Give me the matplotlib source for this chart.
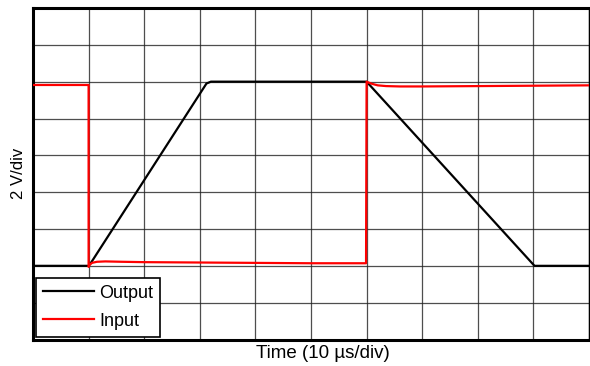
import matplotlib
matplotlib.use("Agg")
import matplotlib.pyplot as plt

plt.rcParams['font.family'] = ['Liberation Sans', 'DejaVu Sans']

# Time in divisions (10 µs/div), voltage in divisions (2 V/div)
output_t = [0.0, 1.0, 1.05, 3.12, 3.2, 6.0, 9.02, 10.0]
output_v = [2.0, 2.0, 2.1, 6.95, 7.0, 7.0, 2.0, 2.0]

input_t = [0.0, 1.0, 1.0, 1.02, 1.06, 1.15, 1.3, 1.6, 2.0, 3.0, 4.0, 5.0, 5.99,
           6.0, 6.03, 6.1, 6.2, 6.35, 6.6, 7.0, 8.0, 9.0, 10.0]
input_v = [6.91, 6.91, 1.97, 2.03, 2.08, 2.11, 2.12, 2.11, 2.1, 2.09, 2.08, 2.07, 2.07,
           7.0, 6.98, 6.94, 6.9, 6.88, 6.87, 6.87, 6.88, 6.89, 6.9]

series_labels = ["Output", "Input"]
xlabel = "Time (10 µs/div)"
ylabel = "2 V/div"

fig = plt.figure(figsize=(5.9, 3.66), dpi=100)
ax = fig.add_axes([33/590, 1-339.5/366, (589-33)/590, (339.5-8)/366])

ax.plot(output_t, output_v, color='black', lw=1.6, label=series_labels[0], zorder=3)
ax.plot(input_t, input_v, color='#ff0000', lw=1.6, label=series_labels[1], zorder=4)

ax.set_xlim(0, 10)
ax.set_ylim(0, 9)
ax.set_xticks(range(0, 11))
ax.set_yticks(range(0, 10))
ax.tick_params(length=0, labelbottom=False, labelleft=False)
ax.grid(True, color='#222222', lw=0.9, alpha=0.8)
ax.set_axisbelow(True)

for side in ['left', 'top', 'bottom']:
    ax.spines[side].set_linewidth(2.2)
ax.spines['right'].set_linewidth(1.0)

ax.set_xlabel(xlabel, fontsize=13.5)
ax.xaxis.set_label_coords((323 - 33) / 556, -14.5 / 331.5)
ax.xaxis.label.set_va('center')
ax.set_ylabel(ylabel, fontsize=12, labelpad=5)

leg = ax.legend(loc='lower left', fontsize=13, handlelength=2.85, handletextpad=0.25,
                borderpad=0.4, labelspacing=0.6, borderaxespad=0.15,
                fancybox=False, framealpha=1, edgecolor='black')
leg.get_frame().set_linewidth(1.2)

fig.savefig('out.png', dpi=100)
